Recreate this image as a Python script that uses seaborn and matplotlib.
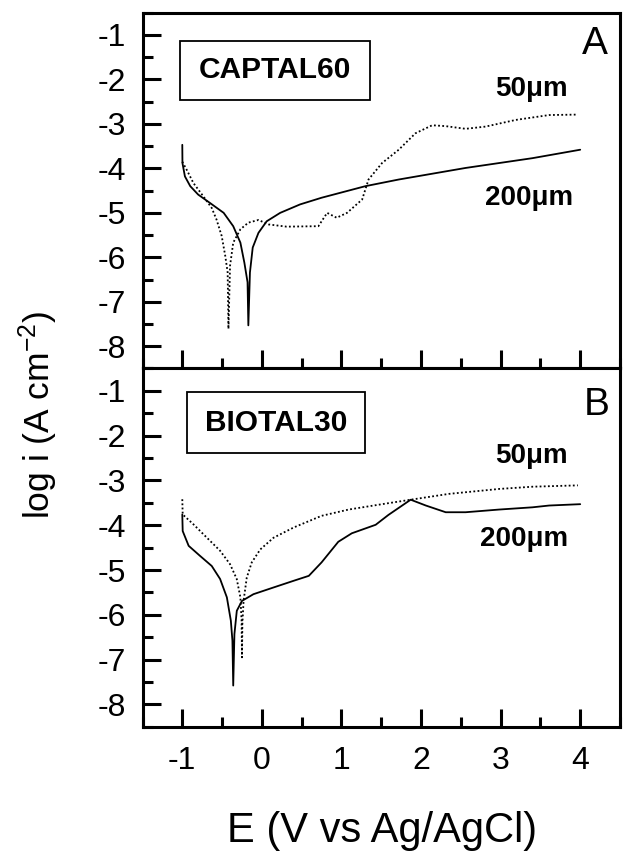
import numpy as np
import pandas as pd
import matplotlib
matplotlib.use("Agg")
import matplotlib.pyplot as plt
from matplotlib.patches import Rectangle
from matplotlib.ticker import MultipleLocator
import seaborn as sns

# ---------------- data ----------------
top_e_200 = [-1.0, -0.998, -0.967, -0.90, -0.80, -0.65, -0.48, -0.36, -0.27, -0.22,
             -0.18, -0.17, -0.15, -0.115, -0.043, 0.06, 0.23, 0.48, 0.75, 1.30,
             1.72, 2.14, 2.56, 2.98, 3.40, 4.0]
top_i_200 = [-3.47, -3.88, -4.18, -4.40, -4.59, -4.78, -5.00, -5.30, -5.67, -6.12,
             -6.56, -7.53, -6.34, -5.78, -5.45, -5.19, -5.00, -4.81, -4.66, -4.40,
             -4.25, -4.12, -3.99, -3.88, -3.77, -3.58]

top_e_50 = [-1.0, -0.945, -0.86, -0.735, -0.63, -0.57, -0.505, -0.46, -0.43, -0.42,
            -0.40, -0.36, -0.27, -0.17, -0.043, 0.083, 0.31, 0.71, 0.82, 0.94, 1.07,
            1.26, 1.34, 1.51, 1.72, 1.93, 2.14, 2.31, 2.56, 2.81, 3.19, 3.61, 3.97]
top_i_50 = [-3.85, -4.03, -4.33, -4.63, -4.89, -5.15, -5.52, -5.97, -6.34, -7.61,
            -6.19, -5.67, -5.37, -5.22, -5.16, -5.26, -5.31, -5.30, -5.00, -5.11,
            -5.00, -4.70, -4.25, -3.88, -3.58, -3.21, -3.03, -3.05, -3.11, -3.06,
            -2.91, -2.80, -2.79]

bot_e_200 = [-1.0, -0.995, -0.92, -0.78, -0.63, -0.525, -0.44, -0.39, -0.37, -0.36,
             -0.345, -0.315, -0.25, -0.106, 0.146, 0.40, 0.59, 0.75, 0.96, 1.13,
             1.43, 1.59, 1.87, 2.06, 2.31, 2.56, 2.98, 3.40, 3.61, 4.0]
bot_i_200 = [-3.76, -4.13, -4.46, -4.68, -4.91, -5.20, -5.61, -6.13, -6.58, -7.58,
             -6.43, -5.91, -5.69, -5.54, -5.39, -5.24, -5.13, -4.83, -4.37, -4.18,
             -3.99, -3.77, -3.43, -3.56, -3.71, -3.71, -3.65, -3.60, -3.56, -3.53]

bot_e_50 = [-1.0, -0.995, -0.86, -0.69, -0.525, -0.40, -0.316, -0.27, -0.255, -0.25,
            -0.245, -0.23, -0.19, -0.127, -0.02, 0.146, 0.40, 0.75, 1.09, 1.51,
            1.87, 2.35, 2.98, 3.40, 3.97]
bot_i_50 = [-3.42, -3.76, -3.98, -4.28, -4.57, -4.87, -5.20, -5.61, -6.13, -6.95,
            -6.20, -5.69, -5.17, -4.83, -4.54, -4.28, -4.05, -3.79, -3.65, -3.53,
            -3.43, -3.30, -3.19, -3.14, -3.11]

x_ticks = [-1, 0, 1, 2, 3, 4]
y_ticks = [-1, -2, -3, -4, -5, -6, -7, -8]
panel_names = ["CAPTAL60", "BIOTAL30"]
panel_letters = ["A", "B"]
size_labels = ["50\u03bcm", "200\u03bcm"]

# ---------------- style ----------------
sns.set_theme(style="ticks")
plt.rcParams["font.family"] = ["Liberation Sans", "DejaVu Sans"]
plt.rcParams["axes.unicode_minus"] = False
plt.rcParams["text.color"] = "black"
plt.rcParams["mathtext.fontset"] = "custom"
plt.rcParams["mathtext.rm"] = "Liberation Sans"
plt.rcParams["mathtext.it"] = "Liberation Sans"
plt.rcParams["mathtext.default"] = "regular"

fig = plt.figure(figsize=(6.25, 8.51), dpi=100)
L, W = 0.228, 0.764
ax_top = fig.add_axes([L, 0.567, W, 0.418])
ax_bot = fig.add_axes([L, 0.146, W, 0.421])

panels = [
    (ax_top, top_e_50, top_i_50, top_e_200, top_i_200),
    (ax_bot, bot_e_50, bot_i_50, bot_e_200, bot_i_200),
]

for k, (ax, e50, i50, e200, i200) in enumerate(panels):
    d50 = pd.DataFrame({"E": e50, "logi": i50})
    d200 = pd.DataFrame({"E": e200, "logi": i200})
    sns.lineplot(data=d200, x="E", y="logi", ax=ax, color="black", lw=1.3,
                 estimator=None, sort=False)
    sns.lineplot(data=d50, x="E", y="logi", ax=ax, color="black", lw=1.3,
                 linestyle=(0, (1, 1.3)), estimator=None, sort=False)
    ax.set_xlim(-1.5, 4.5)
    ax.set_ylim(-8.5, -0.5)
    ax.set_xticks(x_ticks)
    ax.set_yticks(y_ticks)
    ax.xaxis.set_minor_locator(MultipleLocator(0.5))
    ax.yaxis.set_minor_locator(MultipleLocator(0.5))
    ax.tick_params(which="major", direction="in", length=13, width=2.2,
                   labelsize=23, color="black", labelcolor="black")
    ax.tick_params(which="minor", direction="in", length=7, width=2.2, color="black")
    ax.tick_params(axis="y", which="both", left=True, right=False, pad=12)
    ax.tick_params(axis="x", which="both", bottom=True, top=False, pad=14)
    for s in ax.spines.values():
        s.set_visible(True)
        s.set_linewidth(2.2)
        s.set_color("black")
    ax.set_xlabel("")
    ax.set_ylabel("")
    ax.set_yticklabels([str(t) for t in y_ticks])

ax_top.tick_params(axis="x", labelbottom=False)
ax_bot.set_xticklabels([str(t) for t in x_ticks])

# boxed sample names
boxes = [(0.078, 0.755, 0.398, 0.166, 0.277, 0.838),
         (0.093, 0.765, 0.373, 0.168, 0.279, 0.849)]
for ax, name, (x0, y0, w, h, tx, ty) in zip([ax_top, ax_bot], panel_names, boxes):
    ax.add_patch(Rectangle((x0, y0), w, h, transform=ax.transAxes, fill=False,
                           lw=1.3, ec="black"))
    ax.text(tx, ty, name, transform=ax.transAxes, ha="center", va="center",
            fontsize=21.5, fontweight="bold", color="black")

# panel letters
ax_top.text(0.948, 0.912, panel_letters[0], transform=ax_top.transAxes,
            ha="center", va="center", fontsize=28, color="black")
ax_bot.text(0.951, 0.899, panel_letters[1], transform=ax_bot.transAxes,
            ha="center", va="center", fontsize=28, color="black")

# curve labels
lab_kw = dict(ha="center", va="center", fontsize=20, fontweight="bold", color="black")
ax_top.text(0.815, 0.787, size_labels[0], transform=ax_top.transAxes, **lab_kw)
ax_top.text(0.809, 0.479, size_labels[1], transform=ax_top.transAxes, **lab_kw)
ax_bot.text(0.815, 0.756, size_labels[0], transform=ax_bot.transAxes, **lab_kw)
ax_bot.text(0.799, 0.525, size_labels[1], transform=ax_bot.transAxes, **lab_kw)

# axis titles
fig.text(0.061, 0.513, "log i (A cm$^{-2}$)", rotation=90, ha="center",
         va="center", fontsize=25.5, color="black")
fig.text(0.612, 0.023, "E (V vs Ag/AgCl)", ha="center", va="center",
         fontsize=30, color="black")

fig.savefig("out.png", dpi=100, facecolor="white")
